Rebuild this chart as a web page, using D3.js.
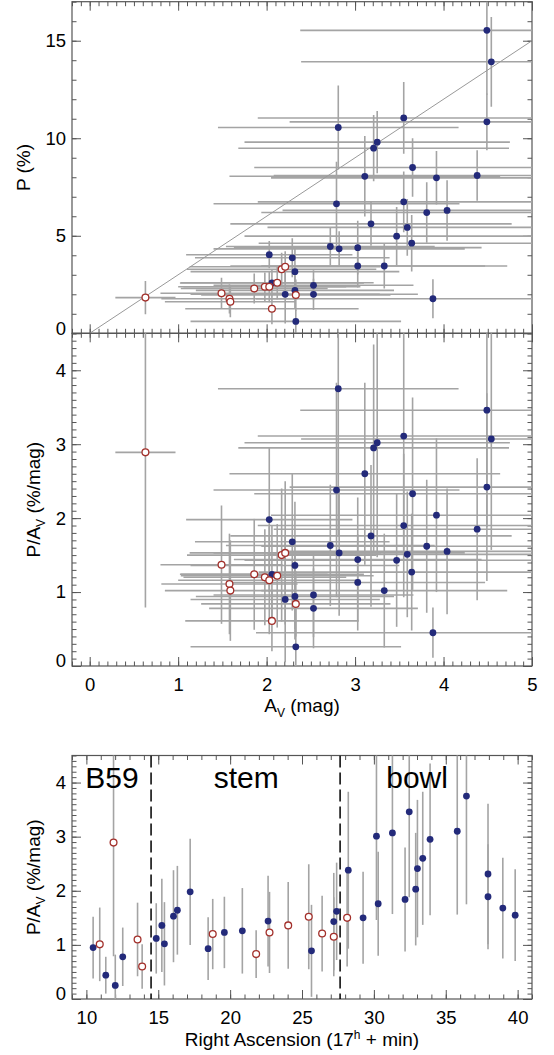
<!DOCTYPE html>
<html>
<head>
<meta charset="utf-8">
<script src="https://cdn.jsdelivr.net/npm/d3@7"></script>
<style>
  body { margin: 0; background: #fff; }
  text { font-family: "Liberation Sans", Arial, Helvetica, sans-serif; fill: #000; }
</style>
</head>
<body>
<div id="chart"></div>
<script>
// ---- data ----
// filled (blue) stars, top + middle panels
var blueAv     = [4.49, 4.54, 4.49, 3.55, 2.81, 3.25, 3.21, 3.11, 3.65, 3.92, 4.38, 2.79, 3.55, 3.81, 4.04, 3.18, 3.59, 3.47, 3.64, 2.72, 2.82, 3.03, 2.03, 2.29, 3.03, 3.33, 2.32, 2.06, 2.53, 2.21, 2.32, 2.53, 3.88, 2.33];
var blueAvErr  = [2.11, 2.15, 2.23, 1.65, 1.36, 1.50, 1.53, 1.53, 1.79, 1.87, 2.30, 1.39, 1.65, 1.87, 1.86, 1.59, 1.58, 1.72, 1.73, 1.18, 1.42, 1.40, 0.94, 1.10, 1.44, 1.39, 1.18, 1.04, 1.13, 1.07, 1.12, 1.18, 2.00, 1.19];
var blueP      = [15.53, 13.92, 10.84, 11.04, 10.55, 9.80, 9.49, 8.05, 8.50, 7.97, 8.09, 6.64, 6.74, 6.19, 6.30, 5.61, 5.43, 4.98, 4.62, 4.45, 4.33, 4.39, 4.03, 3.87, 3.45, 3.45, 3.16, 2.58, 2.46, 2.00, 2.20, 2.00, 1.77, 0.61];
var bluePErr   = [3.3, 2.3, 1.45, 1.84, 2.15, 1.6, 1.7, 2.06, 1.5, 1.37, 1.3, 2.15, 1.56, 1.55, 1.55, 1.12, 1.45, 1.5, 1.45, 0.98, 0.9, 1.38, 0.7, 1.0, 1.1, 1.15, 1.2, 0.68, 0.77, 1.5, 0.9, 0.8, 1.0, 0.6];
var bluePav    = [3.46, 3.07, 2.42, 3.11, 3.75, 3.02, 2.95, 2.60, 2.33, 2.04, 1.85, 2.38, 1.90, 1.62, 1.55, 1.76, 1.51, 1.43, 1.27, 1.63, 1.53, 1.44, 1.98, 1.68, 1.13, 1.02, 1.36, 1.24, 0.96, 0.90, 0.94, 0.78, 0.45, 0.26];
var bluePavErr = [1.58, 1.5, 1.27, 1.54, 2.0, 1.55, 1.4, 1.23, 1.3, 1.04, 0.96, 1.45, 0.97, 0.9, 0.85, 0.96, 0.85, 0.9, 0.79, 0.82, 0.85, 0.84, 0.98, 0.93, 0.65, 0.77, 0.86, 0.66, 0.57, 0.85, 0.58, 0.54, 0.34, 0.57];

// open (red) stars, top + middle panels
var redAv     = [0.63, 1.49, 1.58, 1.59, 1.86, 1.98, 2.03, 2.12, 2.17, 2.21, 2.33, 2.06];
var redAvErr  = [0.34, 0.69, 0.77, 0.74, 0.83, 0.92, 1.03, 1.09, 1.07, 1.08, 1.07, 0.98];
var redP      = [1.83, 2.05, 1.77, 1.62, 2.30, 2.39, 2.39, 2.59, 3.28, 3.41, 1.96, 1.26];
var redPErr   = [0.85, 0.8, 0.75, 0.8, 0.77, 0.73, 0.8, 0.85, 0.85, 0.8, 0.8, 0.8];
var redPav    = [2.89, 1.37, 1.11, 1.02, 1.24, 1.20, 1.16, 1.22, 1.50, 1.53, 0.84, 0.61];
var redPavErr = [2.1, 0.8, 0.68, 0.68, 0.75, 0.65, 0.73, 0.7, 0.9, 0.97, 0.44, 0.41];

// bottom panel: right ascension (17h + min)
var blueRa       = [10.47, 11.35, 12.01, 12.53, 14.86, 15.25, 15.43, 16.06, 16.33, 17.22, 18.47, 19.60, 20.85, 22.64, 25.66, 27.21, 27.41, 28.22, 29.25, 30.18, 30.30, 31.29, 32.17, 32.46, 32.91, 33.03, 33.40, 33.91, 35.80, 36.44, 37.94, 37.94, 38.97, 39.83];
var blueRaPav    = [0.95, 0.44, 0.25, 0.78, 1.12, 1.36, 1.02, 1.53, 1.64, 1.98, 0.93, 1.23, 1.26, 1.44, 0.89, 1.43, 1.62, 2.38, 1.50, 3.01, 1.76, 3.07, 1.84, 3.46, 2.03, 2.41, 2.60, 2.95, 3.10, 3.75, 2.31, 1.89, 1.68, 1.55];
var blueRaPavErr = [0.57, 0.34, 0.57, 0.54, 0.65, 0.86, 0.77, 0.85, 0.82, 0.98, 0.58, 0.66, 0.79, 0.84, 0.85, 0.9, 0.9, 1.45, 0.85, 1.55, 0.96, 1.5, 0.96, 1.58, 1.04, 1.27, 1.23, 1.4, 1.54, 2.0, 1.3, 0.97, 0.93, 0.85];
var redRa        = [10.93, 11.89, 13.56, 13.88, 18.79, 21.81, 22.74, 24.04, 25.47, 26.40, 27.21, 28.14];
var redRaPav     = [1.01, 2.89, 1.10, 0.60, 1.20, 0.83, 1.23, 1.36, 1.52, 1.21, 1.15, 1.50];
var redRaPavErr  = [0.68, 2.1, 0.68, 0.41, 0.65, 0.44, 0.75, 0.8, 0.97, 0.7, 0.73, 0.9];

var regionBounds = [14.5, 27.65];
var regionNames  = ["B59", "stem", "bowl"];
var regionStart  = [9.93, 18.86, 30.86];

var avTicks  = [0, 1, 2, 3, 4, 5];
var pTicks   = [0, 5, 10, 15];
var pavTicks = [0, 1, 2, 3, 4];
var raTicks  = [10, 15, 20, 25, 30, 35, 40];

// ---- layout ----
var W = 554, H = 1055;
var left = 72, right = 532;
var barColor = "#a4a4a4", blue = "#232a7a", red = "#a3302b", frameColor = "#555";

var svg = d3.select("#chart").append("svg")
    .attr("width", W)
    .attr("height", H);

var x   = d3.scaleLinear().domain([-0.2, 5]).range([left, right]);
var xRa = d3.scaleLinear().domain([9, 41]).range([left, right]);
var yP  = d3.scaleLinear().domain([0, 17]).range([333.3, 1.7]);
var yM  = d3.scaleLinear().domain([0, 4.5]).range([666, 333.3]);
var yB  = d3.scaleLinear().domain([0, 4.5]).range([999, 755.5]);

function minorTicks(scale, step) {
  var d = scale.domain(), out = [];
  var start = Math.ceil(d[0] / step - 1e-6);
  for (var i = start; i * step <= d[1] + 1e-6; i++) out.push(+(i * step).toFixed(4));
  return out;
}

// frame with inward ticks on all four sides (IDL style)
function frame(name, xs, ys, xMajor, xMinorStep, yMajor, yMinorStep, xLabels) {
  var top = ys.range()[1], bottom = ys.range()[0];
  var g = svg.append("g").attr("class", "frame-" + name);

  function addAxis(axisFn, scale, vals, size, pos, labels, pad) {
    var a = axisFn(scale).tickValues(vals).tickSize(size).tickSizeOuter(0).tickPadding(pad || 0);
    a.tickFormat(labels ? d3.format("d") : "");
    var ag = g.append("g").attr("transform", pos).call(a);
    ag.select(".domain").remove();
    ag.selectAll("line").attr("stroke", frameColor).attr("stroke-width", 1);
    return ag;
  }
  var xMinor = minorTicks(xs, xMinorStep), yMinor = minorTicks(ys, yMinorStep);

  // bottom / top
  addAxis(d3.axisBottom, xs, xMajor, -9, "translate(0," + bottom + ")", xLabels, 11.5);
  addAxis(d3.axisBottom, xs, xMinor, -4.5, "translate(0," + bottom + ")", false);
  addAxis(d3.axisTop, xs, xMajor, -9, "translate(0," + top + ")", false);
  addAxis(d3.axisTop, xs, xMinor, -4.5, "translate(0," + top + ")", false);
  // left / right
  var ly = addAxis(d3.axisLeft, ys, yMajor, -9, "translate(" + left + ",0)", true, 6);
  addAxis(d3.axisLeft, ys, yMinor, -4.5, "translate(" + left + ",0)", false);
  addAxis(d3.axisRight, ys, yMajor, -9, "translate(" + right + ",0)", false);
  addAxis(d3.axisRight, ys, yMinor, -4.5, "translate(" + right + ",0)", false);

  g.selectAll("text").style("font-size", "18.5px").attr("fill", "#000");
  ly.selectAll(".tick text").filter(function (d) { return d === 0; }).attr("dy", "0.05em");

  g.append("rect")
    .attr("x", left).attr("y", top)
    .attr("width", right - left).attr("height", bottom - top)
    .attr("fill", "none").attr("stroke", frameColor).attr("stroke-width", 1.2);

  svg.append("defs").append("clipPath").attr("id", "clip-" + name)
    .append("rect").attr("x", left).attr("y", top)
    .attr("width", right - left).attr("height", bottom - top);
  return svg.append("g").attr("clip-path", "url(#clip-" + name + ")");
}

function errorBars(g, xs, ys, xv, yv, xe, ye) {
  if (xe) {
    g.selectAll(null).data(xv).enter().append("line")
      .attr("x1", function (d, i) { return xs(d - xe[i]); })
      .attr("x2", function (d, i) { return xs(d + xe[i]); })
      .attr("y1", function (d, i) { return ys(yv[i]); })
      .attr("y2", function (d, i) { return ys(yv[i]); })
      .attr("stroke", barColor).attr("stroke-width", 1.6);
  }
  g.selectAll(null).data(xv).enter().append("line")
    .attr("x1", function (d) { return xs(d); })
    .attr("x2", function (d) { return xs(d); })
    .attr("y1", function (d, i) { return ys(yv[i] - ye[i]); })
    .attr("y2", function (d, i) { return ys(yv[i] + ye[i]); })
    .attr("stroke", barColor).attr("stroke-width", 1.6);
}

function dots(g, xs, ys, xv, yv, filled) {
  g.selectAll(null).data(xv).enter().append("circle")
    .attr("cx", function (d) { return xs(d); })
    .attr("cy", function (d, i) { return ys(yv[i]); })
    .attr("r", 3.4)
    .attr("fill", filled ? blue : "#fff")
    .attr("stroke", filled ? "none" : red)
    .attr("stroke-width", filled ? 0 : 1.3);
}

// ---- top panel: P vs A_V ----
var gTop = frame("top", x, yP, avTicks, 0.1, pTicks, 1, false);
errorBars(gTop, x, yP, blueAv, blueP, blueAvErr, bluePErr);
errorBars(gTop, x, yP, redAv, redP, redAvErr, redPErr);
gTop.append("line")
  .attr("x1", x(0)).attr("y1", yP(0))
  .attr("x2", x(5)).attr("y2", yP(15))
  .attr("stroke", "#999").attr("stroke-width", 1);
dots(gTop, x, yP, blueAv, blueP, true);
dots(gTop, x, yP, redAv, redP, false);

// ---- middle panel: P/A_V vs A_V ----
var gMid = frame("mid", x, yM, avTicks, 0.1, pavTicks, 0.1, true);
errorBars(gMid, x, yM, blueAv, bluePav, blueAvErr, bluePavErr);
errorBars(gMid, x, yM, redAv, redPav, redAvErr, redPavErr);
dots(gMid, x, yM, blueAv, bluePav, true);
dots(gMid, x, yM, redAv, redPav, false);

// ---- bottom panel: P/A_V vs RA ----
var gBot = frame("bot", xRa, yB, raTicks, 1, pavTicks, 0.1, true);
errorBars(gBot, xRa, yB, blueRa, blueRaPav, null, blueRaPavErr);
errorBars(gBot, xRa, yB, redRa, redRaPav, null, redRaPavErr);
gBot.selectAll(".bound").data(regionBounds).enter().append("line")
  .attr("x1", function (d) { return xRa(d); })
  .attr("x2", function (d) { return xRa(d); })
  .attr("y1", yB(4.5)).attr("y2", yB(0))
  .attr("stroke", "#000").attr("stroke-width", 1.5)
  .attr("stroke-dasharray", "12,5");
dots(gBot, xRa, yB, blueRa, blueRaPav, true);
dots(gBot, xRa, yB, redRa, redRaPav, false);

svg.selectAll(".region").data(regionNames).enter().append("text")
  .attr("x", function (d, i) { return xRa(regionStart[i]); })
  .attr("y", 788)
  .style("font-size", "30px")
  .text(function (d) { return d; });

// ---- axis titles ----
var t1 = svg.append("text").attr("x", 302).attr("y", 712)
  .attr("text-anchor", "middle").style("font-size", "19px");
t1.append("tspan").text("A");
t1.append("tspan").attr("dy", 5).style("font-size", "12px").text("V");
t1.append("tspan").attr("dy", -5).text(" (mag)");

var t2 = svg.append("text").attr("x", 302).attr("y", 1046)
  .attr("text-anchor", "middle").style("font-size", "19px");
t2.append("tspan").text("Right Ascension (17");
t2.append("tspan").attr("dy", -7).style("font-size", "12px").text("h");
t2.append("tspan").attr("dy", 7).text(" + min)");

svg.append("text")
  .attr("transform", "translate(30," + (333.3 + 1.7) / 2 + ") rotate(-90)")
  .attr("text-anchor", "middle").style("font-size", "19px")
  .text("P (%)");

[[(666 + 333.3) / 2], [(999 + 755.5) / 2]].forEach(function (c) {
  var t = svg.append("text")
    .attr("transform", "translate(40," + c[0] + ") rotate(-90)")
    .attr("text-anchor", "middle").style("font-size", "19px");
  t.append("tspan").text("P/A");
  t.append("tspan").attr("dy", 5).style("font-size", "12px").text("V");
  t.append("tspan").attr("dy", -5).text(" (%/mag)");
});
</script>
</body>
</html>
